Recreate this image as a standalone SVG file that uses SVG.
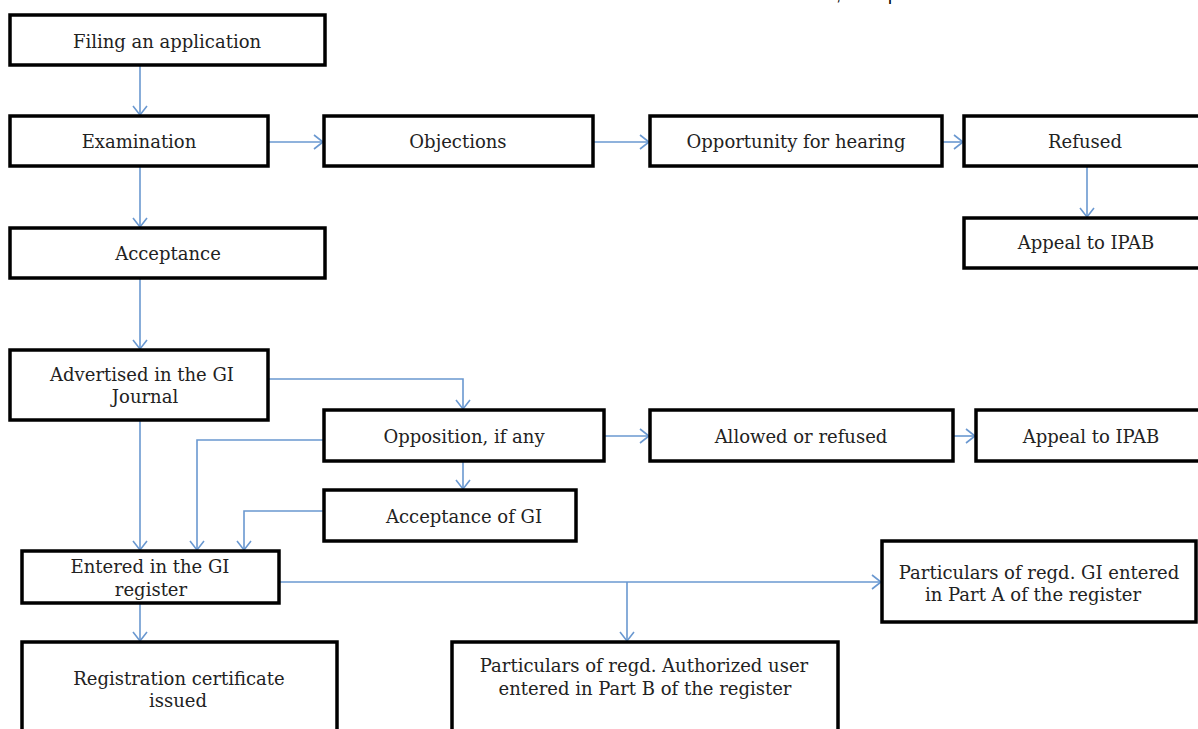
<svg xmlns="http://www.w3.org/2000/svg" width="1198" height="729" viewBox="0 0 1198 729">
<style>
.box{fill:#fff;stroke:#000;stroke-width:3.5}
.t{font-family:"DejaVu Serif","Liberation Serif",serif;font-size:18px;fill:#222;text-anchor:middle}
.c{fill:none;stroke:#6a98d0;stroke-width:1.6}
</style>
<defs>
<marker id="ah" markerUnits="userSpaceOnUse" markerWidth="14" markerHeight="16" refX="10" refY="8" orient="auto">
<path d="M1,1 L10,8 L1,15" fill="none" stroke="#6a98d0" stroke-width="1.6"/>
</marker>
</defs>
<rect width="1198" height="729" fill="#fff"/>
<text x="836" y="0" style="font-family:'Liberation Sans',sans-serif;font-size:18px;fill:#000">,<tspan x="878">op</tspan></text>

<g id="connectors">
<path class="c" d="M140,66 V115" marker-end="url(#ah)"/>
<path class="c" d="M140,167 V227" marker-end="url(#ah)"/>
<path class="c" d="M140,279 V349" marker-end="url(#ah)"/>
<path class="c" d="M269,142 H323" marker-end="url(#ah)"/>
<path class="c" d="M594,142 H649" marker-end="url(#ah)"/>
<path class="c" d="M943,142 H963" marker-end="url(#ah)"/>
<path class="c" d="M1087,167 V217" marker-end="url(#ah)"/>
<path class="c" d="M269,379 H463 V409" marker-end="url(#ah)"/>
<path class="c" d="M140,421 V550" marker-end="url(#ah)"/>
<path class="c" d="M323,440 H197 V550" marker-end="url(#ah)"/>
<path class="c" d="M463,462 V489" marker-end="url(#ah)"/>
<path class="c" d="M323,511 H244 V550" marker-end="url(#ah)"/>
<path class="c" d="M605,436 H649" marker-end="url(#ah)"/>
<path class="c" d="M954,436 H975" marker-end="url(#ah)"/>
<path class="c" d="M280,582 H881" marker-end="url(#ah)"/>
<path class="c" d="M627,582 V641" marker-end="url(#ah)"/>
<path class="c" d="M140,604 V641" marker-end="url(#ah)"/>
</g>

<g id="n-filing"><rect class="box" x="10" y="15" width="315" height="50"/><text class="t" x="167" y="48">Filing an application</text></g>
<g id="n-exam"><rect class="box" x="10" y="116" width="258" height="50"/><text class="t" x="139" y="148">Examination</text></g>
<g id="n-accept"><rect class="box" x="10" y="228" width="315" height="50"/><text class="t" x="168" y="260">Acceptance</text></g>
<g id="n-objections"><rect class="box" x="324" y="116" width="269" height="50"/><text class="t" x="458" y="148">Objections</text></g>
<g id="n-hearing"><rect class="box" x="650" y="116" width="292" height="50"/><text class="t" x="796" y="148">Opportunity for hearing</text></g>
<g id="n-refused"><rect class="box" x="964" y="116" width="245" height="50"/><text class="t" x="1085" y="148">Refused</text></g>
<g id="n-appeal1"><rect class="box" x="964" y="218" width="245" height="50"/><text class="t" x="1086" y="249">Appeal to IPAB</text></g>
<g id="n-advertised"><rect class="box" x="10" y="350" width="258" height="70"/><text class="t" x="142" y="381">Advertised in the GI</text><text class="t" x="145" y="403">Journal</text></g>
<g id="n-opposition"><rect class="box" x="324" y="410" width="280" height="51"/><text class="t" x="464" y="443">Opposition, if any</text></g>
<g id="n-allowed"><rect class="box" x="650" y="410" width="303" height="51"/><text class="t" x="801" y="443">Allowed or refused</text></g>
<g id="n-appeal2"><rect class="box" x="976" y="410" width="230" height="51"/><text class="t" x="1091" y="443">Appeal to IPAB</text></g>
<g id="n-acceptgi"><rect class="box" x="324" y="490" width="252" height="51"/><text class="t" x="464" y="523">Acceptance of GI</text></g>
<g id="n-entered"><rect class="box" x="22" y="551" width="257" height="52"/><text class="t" x="150" y="573">Entered in the GI</text><text class="t" x="151" y="596">register</text></g>
<g id="n-certificate"><rect class="box" x="22" y="642" width="315" height="100"/><text class="t" x="179" y="685">Registration certificate</text><text class="t" x="178" y="707">issued</text></g>
<g id="n-partb"><rect class="box" x="452" y="642" width="386" height="100"/><text class="t" x="644" y="672">Particulars of regd. Authorized user</text><text class="t" x="645" y="695">entered in Part B  of the register</text></g>
<g id="n-parta"><rect class="box" x="882" y="541" width="314" height="81"/><text class="t" x="1039" y="579">Particulars of regd. GI entered</text><text class="t" x="1033" y="601">in Part A of the register</text></g>
</svg>
